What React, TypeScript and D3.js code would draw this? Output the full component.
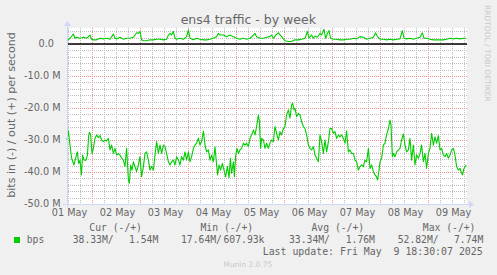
import React from 'react';
import * as d3 from 'd3';

// ---- data ----
const START = Date.UTC(2025, 4, 1, 11, 15);
const SPAN_HOURS = 200;
const Y_MIN = -50;
const Y_MAX = 5;

// bits in (negated), Mbit/s, [hours since START, value]
const inSeries: [number, number][] = [
  [0,-30.0],[0.7,-27.2],[1.5,-31.6],[2.3,-35.7],[3.5,-37.8],[4.5,-35.2],[5.2,-33.7],[5.8,-37.3],[6.5,-36.3],[7.2,-40.9],
  [7.8,-34.7],[8.5,-36.3],[9.5,-36.3],[10.2,-34.7],[10.8,-29.0],[11.2,-27.6],[11.8,-28.2],[12.5,-34.2],[13.2,-32.6],[14,-29.5],
  [14.8,-28.4],[15.7,-29.3],[16.5,-28.6],[17.3,-30.0],[18.2,-30.5],[19,-30.0],[19.8,-30.3],[20.7,-29.5],[21.5,-33.1],[22.3,-31.6],
  [23.2,-34.2],[24,-32.6],[24.8,-34.7],[25.7,-34.2],[26.5,-34.7],[27.3,-35.7],[28.2,-36.3],[29,-38.3],[29.8,-32.6],[30.7,-42.5],
  [31.2,-43.5],[31.8,-37.8],[32.5,-39.4],[33.2,-36.8],[34,-38.3],[34.8,-39.9],[35.7,-37.8],[36.5,-35.2],[37.3,-41.5],[38.2,-38.3],
  [39,-34.2],[39.8,-33.7],[40.7,-36.3],[41.5,-39.4],[42.3,-38.3],[43.2,-39.4],[44,-34.7],[44.8,-30.5],[45.7,-34.2],[46.5,-31.6],
  [47.3,-34.2],[48.2,-31.6],[49,-32.1],[49.8,-34.2],[50.7,-36.8],[51.5,-37.8],[52.3,-36.8],[53.2,-36.3],[54,-37.8],[54.8,-35.2],
  [55.7,-36.3],[56.5,-37.8],[57.3,-35.2],[58.2,-36.3],[59,-33.7],[59.8,-36.3],[60.7,-33.7],[61.5,-36.8],[62.3,-35.2],[63.2,-32.6],
  [64,-31.6],[64.8,-31.0],[65.7,-29.4],[66.5,-31.6],[67.3,-30.5],[68.2,-27.2],[69,-31.6],[69.8,-33.7],[70.7,-33.1],[71.5,-36.3],
  [72.3,-34.7],[73.2,-36.8],[74,-32.1],[74.8,-37.8],[75.3,-40.9],[76,-37.8],[76.8,-39.4],[77.7,-37.3],[78.5,-39.4],[79.3,-41.5],
  [80.2,-38.3],[81,-41.8],[81.7,-35.7],[82.3,-40.4],[83.2,-36.8],[83.7,-41.5],[84.3,-35.2],[85,-32.6],[85.7,-34.2],[86.5,-33.1],
  [87.3,-32.6],[88.2,-31.0],[89,-31.6],[89.8,-31.0],[90.7,-32.1],[91.5,-29.5],[92.3,-28.4],[93.2,-26.9],[94,-28.4],[94.8,-25.8],
  [95.7,-22.2],[96.2,-24.3],[96.8,-32.6],[97.3,-29.5],[98.2,-30.0],[99,-32.6],[99.8,-31.0],[100.7,-32.6],[101.5,-31.0],[102.3,-30.0],
  [103.2,-30.5],[104,-25.8],[104.8,-27.9],[105.7,-30.0],[106.5,-27.4],[107.3,-28.4],[108.2,-26.4],[109,-25.8],[109.8,-22.2],[110.7,-20.6],
  [111.5,-23.2],[112.3,-19.1],[112.8,-18.5],[113.5,-20.6],[114,-20.1],[114.8,-22.7],[115.7,-21.7],[116.5,-22.2],[117.3,-24.3],[118.2,-25.8],
  [119,-26.4],[119.8,-28.4],[120.7,-31.6],[121.5,-32.6],[122.3,-33.1],[123.2,-32.1],[124,-34.7],[124.8,-35.7],[125.7,-36.8],[126.5,-28.4],
  [127.3,-30.5],[128.2,-34.2],[129,-30.0],[129.8,-33.7],[130.7,-30.5],[131.5,-26.4],[132.3,-26.4],[133.2,-27.9],[134,-27.4],[134.8,-29.5],
  [135.7,-28.4],[136.5,-29.0],[137.3,-28.4],[138.2,-29.5],[139,-31.0],[139.8,-27.1],[140.7,-33.7],[141.5,-33.1],[142.3,-34.2],[143.2,-34.2],
  [144,-36.3],[144.8,-36.8],[145.7,-39.4],[146.5,-38.3],[147.3,-37.8],[148.2,-38.3],[149,-36.3],[149.8,-36.8],[150.7,-32.6],[151.5,-38.9],
  [152.3,-37.8],[153.2,-39.9],[154,-40.9],[154.8,-41.5],[155.3,-42.5],[156,-39.4],[156.5,-36.8],[157.3,-35.7],[158.2,-31.6],[159,-31.0],
  [159.8,-28.4],[160.7,-26.4],[161.5,-23.8],[162,-25.3],[162.7,-35.2],[163.2,-34.2],[164,-35.2],[164.8,-33.7],[165.7,-33.1],[166.5,-32.6],
  [167.3,-30.0],[168.2,-28.1],[169,-31.6],[169.8,-33.7],[170.7,-33.1],[171.5,-29.5],[172.3,-36.3],[173.2,-31.6],[174,-37.8],[174.8,-34.7],
  [175.7,-35.7],[176.5,-34.2],[177.3,-31.6],[178.2,-36.8],[179,-34.2],[179.8,-38.9],[180.7,-34.2],[181.5,-32.6],[182.3,-27.9],[183.2,-31.6],
  [184,-29.0],[184.8,-31.0],[185.7,-28.6],[186.5,-33.1],[187.3,-32.6],[188.2,-34.7],[189,-35.2],[189.8,-34.2],[190.7,-35.7],[191.5,-34.7],
  [192.3,-33.1],[193.2,-32.6],[194,-34.7],[194.8,-38.3],[195.7,-39.4],[196.5,-38.9],[197.3,-40.4],[197.8,-40.9],[198.5,-38.9],[199.5,-37.8],
];

// bits out, Mbit/s, [hours since START, value]
const outSeries: [number, number][] = [
  [0,1.0],[1.5,1.8],[3.2,3.1],[4,1.8],[4.8,2.1],[6.5,1.8],[8.2,2.1],[9.8,1.8],[11.5,2.8],[12.3,1.5],
  [13.2,1.3],[14.8,1.3],[16.5,1.8],[18.2,1.6],[19.8,1.8],[21.5,1.5],[23.2,3.1],[24,1.8],[24.8,1.6],[26.5,2.1],
  [28.2,1.5],[29.8,1.8],[31.5,1.8],[33.2,2.1],[34.8,3.5],[35.7,3.3],[36.5,3.9],[37.3,1.3],[38.2,1.0],[39.8,1.0],
  [41.5,1.3],[43.2,1.3],[44.8,1.5],[46.5,1.5],[48.2,1.3],[49.8,1.5],[50.7,2.8],[51.5,3.3],[52.3,2.8],[53.2,3.9],
  [54,1.8],[54.8,1.5],[56.5,1.8],[58.2,1.5],[59.8,2.3],[60.7,4.4],[61.5,1.8],[63.2,1.3],[64.8,1.8],[66.5,1.5],
  [68.2,1.3],[69.8,1.3],[71.5,1.5],[73.2,1.8],[74.8,2.3],[75.7,3.3],[76.5,2.8],[78.2,2.8],[79.8,2.3],[81.5,2.8],
  [83.2,2.3],[84.8,1.8],[86.5,1.5],[88.2,1.8],[89.8,1.5],[91.5,1.8],[93.2,2.8],[94,3.3],[94.8,2.3],[96.5,1.8],
  [98.2,1.8],[99.8,2.1],[101.5,2.3],[102.3,2.8],[103.2,1.8],[104.8,3.1],[105.7,3.5],[107.3,2.3],[109,1.0],[110.7,0.8],
  [112.3,0.8],[114,1.3],[115.7,1.3],[117.3,1.5],[119,1.8],[120.2,3.9],[121,1.8],[122.3,2.8],[123.2,1.8],[124,2.5],
  [125.2,2.1],[126.5,3.3],[127.3,2.8],[128.5,4.6],[129.3,1.8],[130.2,3.3],[131,4.2],[131.8,1.8],[133.2,1.5],[134.8,1.5],
  [136.5,1.3],[138.2,1.3],[139.8,1.5],[141.5,1.5],[143.2,1.8],[144.8,1.6],[146.5,2.3],[148.2,2.1],[149.8,1.5],[151.5,1.8],
  [153.2,2.1],[154.3,3.5],[155.2,2.3],[156.5,1.5],[158.2,1.5],[159.8,1.3],[161.5,1.5],[163.2,1.3],[164.8,1.5],[166.5,1.6],
  [167.7,4.2],[168.5,1.8],[169.8,1.6],[171.5,1.8],[173.2,1.5],[174.8,1.8],[176.5,2.1],[177.7,3.5],[178.5,1.8],[179.8,1.8],
  [181.5,1.5],[183.2,1.3],[184.8,1.3],[186.5,1.3],[188.2,1.3],[189.8,1.5],[191.5,1.8],[193.2,1.6],[194.8,1.8],[196.5,1.6],
  [198.2,1.8],[199.5,1.8],
];

const dayLabels = ['01 May', '02 May', '03 May', '04 May', '05 May', '06 May', '07 May', '08 May', '09 May'];
const yTickValues = [0, -10, -20, -30, -40, -50];
const yTickLabels = ['0.0', '-10.0 M', '-20.0 M', '-30.0 M', '-40.0 M', '-50.0 M'];
const legendHeaders = ['Cur (-/+)', 'Min (-/+)', 'Avg (-/+)', 'Max (-/+)'];
const legendName = 'bps';
const legendValues = ['38.33M/', '1.54M', '17.64M/', '607.93k', '33.34M/', '1.76M', '52.82M/', '7.74M'];
const titleText = 'ens4 traffic - by week';
const yAxisTitle = 'bits in (-) / out (+) per second';
const lastUpdate = 'Last update: Fri May  9 18:30:07 2025';
const watermark = 'RRDTOOL / TOBI OETIKER';
const footer = 'Munin 2.0.75';

// ---- layout ----
const W = 497, H = 275;
const X0 = 67, X1 = 467, Y0 = 204, Y1 = 28;
const SANS = "'DejaVu Sans', sans-serif";
const MONO = "'DejaVu Sans Mono', monospace";
const FONT_COLOR = '#666666';
const AXIS_COLOR = '#CFD6F8';
const LINE_COLOR = '#00CC00';

export default function App() {
  const x = d3.scaleUtc()
    .domain([new Date(START), new Date(START + SPAN_HOURS * 3600e3)])
    .range([X0, X1]);
  const y = d3.scaleLinear().domain([Y_MIN, Y_MAX]).range([Y0, Y1]);
  const t = (h: number) => new Date(START + h * 3600e3);

  const line = d3.line<[number, number]>()
    .x(d => x(t(d[0])))
    .y(d => y(d[1]));

  const [d0, d1] = x.domain();
  const minorX = d3.utcHour.every(6)!.range(d0, d1).filter(d => d.getUTCHours() !== 0);
  const majorX = d3.utcDay.range(d0, d1);
  const labelDays = d3.utcDay.range(d3.utcDay.floor(d0), d1);

  const minorY = d3.range(Y_MIN + 2, Y_MAX, 2).filter(v => v % 10 !== 0);
  const majorY = d3.range(Y_MIN + 10, Y_MAX, 10);

  const pxX = (v: number) => Math.floor(v + 1e-6) + 0.5;
  const pxY = (v: number) => Math.round(v) + 0.5;

  const legendHeaderX = [89.3, 200.5, 311.5, 422.8];
  const legendValueX = [72.7, 129, 181, 223.5, 289, 345.7, 397.7, 454];

  return (
    <svg width={W} height={H} style={{ position: 'absolute', left: 0, top: 0, display: 'block' }}>
      <rect x={0} y={0} width={W} height={H} fill="#F0F0F0" />
      <rect x={X0} y={Y1} width={X1 - X0} height={Y0 - Y1} fill="#FFFFFF" />

      {/* minor grid */}
      <g stroke="#bdbdbd" strokeWidth={1} strokeDasharray="1 1" fill="none">
        {minorX.map((d, i) => (
          <line key={'mx' + i} x1={pxX(x(d))} x2={pxX(x(d))} y1={Y1} y2={Y0} />
        ))}
        {minorY.map((v, i) => (
          <line key={'my' + i} x1={X0 + 1} x2={X1} y1={pxY(y(v))} y2={pxY(y(v))} />
        ))}
      </g>
      {/* major grid */}
      <g stroke="#e89393" strokeWidth={1} strokeDasharray="1 1" fill="none">
        {majorX.map((d, i) => (
          <line key={'Mx' + i} x1={pxX(x(d))} x2={pxX(x(d))} y1={Y1} y2={Y0} />
        ))}
        {majorY.map((v, i) => (
          <line key={'My' + i} x1={X0 + 1} x2={X1} y1={pxY(y(v))} y2={pxY(y(v))} />
        ))}
      </g>

      {/* data lines */}
      <path d={line(inSeries) || ''} fill="none" stroke={LINE_COLOR} strokeWidth={1.1} strokeLinejoin="round" />
      <path d={line(outSeries) || ''} fill="none" stroke={LINE_COLOR} strokeWidth={1.1} strokeLinejoin="round" />

      {/* zero line */}
      <line x1={X0} x2={X1} y1={y(0)} y2={y(0)} stroke="#000000" strokeWidth={1.4} />

      {/* axes */}
      <g stroke={AXIS_COLOR} strokeWidth={1}>
        <line x1={X0 - 4} x2={X1 + 4} y1={Y0 + 0.5} y2={Y0 + 0.5} />
        <line x1={X0 + 0.5} x2={X0 + 0.5} y1={Y0 + 4} y2={Y1 - 4} />
      </g>
      <path d={`M${X1 + 2},${Y0 - 3} L${X1 + 2},${Y0 + 4} L${X1 + 7},${Y0 + 0.5} Z`} fill={AXIS_COLOR} />
      <path d={`M${X0 - 3},${Y1 - 2} L${X0 + 4},${Y1 - 2} L${X0 + 0.5},${Y1 - 7} Z`} fill={AXIS_COLOR} />

      {/* tick labels */}
      <g fontFamily={SANS} fontSize={9.7} fill={FONT_COLOR}>
        {yTickValues.map((v, i) => (
          <text key={'yt' + i} x={v === 0 ? 54 : 60.5} y={y(v)} dy="0.35em" textAnchor="end">{yTickLabels[i]}</text>
        ))}
        {labelDays.map((d, i) => (
          <text key={'xt' + i} x={x(new Date(d.getTime() + 12 * 3600e3)) + 1} y={212.3} dy="0.35em" textAnchor="middle">
            {dayLabels[i]}
          </text>
        ))}
      </g>

      {/* title */}
      <text x={248.3} y={19.5} dy="0.35em" textAnchor="middle" fontFamily={SANS} fontSize={12.5} fill={FONT_COLOR}>{titleText}</text>

      {/* y axis title */}
      <text transform="translate(15,115) rotate(-90)" textAnchor="middle" fontFamily={SANS} fontSize={11.1} fill={FONT_COLOR}>{yAxisTitle}</text>

      {/* watermark */}
      <text transform="translate(485,53.3) rotate(90)" textAnchor="middle" fontFamily={SANS} fontSize={7.5} fill="#c8c8c8">{watermark}</text>

      {/* legend */}
      <g fontFamily={MONO} fontSize={9.72} fill={FONT_COLOR}>
        {legendHeaders.map((s, i) => (
          <text key={'lh' + i} x={legendHeaderX[i]} y={227.3} dy="0.35em">{s}</text>
        ))}
        <rect x={14} y={237} width={6} height={6} fill={LINE_COLOR} />
        <text x={26.7} y={240} dy="0.35em">{legendName}</text>
        {legendValues.map((s, i) => (
          <text key={'lv' + i} x={legendValueX[i]} y={240} dy="0.35em">{s}</text>
        ))}
        <text x={482.7} y={251.7} dy="0.35em" textAnchor="end" fontSize={9.9} style={{ whiteSpace: 'pre' }}>{lastUpdate}</text>
      </g>
      <text x={247.8} y={264} dy="0.35em" textAnchor="middle" fontFamily={SANS} fontSize={7.45} fill="#c8c8c8">{footer}</text>
    </svg>
  );
}
